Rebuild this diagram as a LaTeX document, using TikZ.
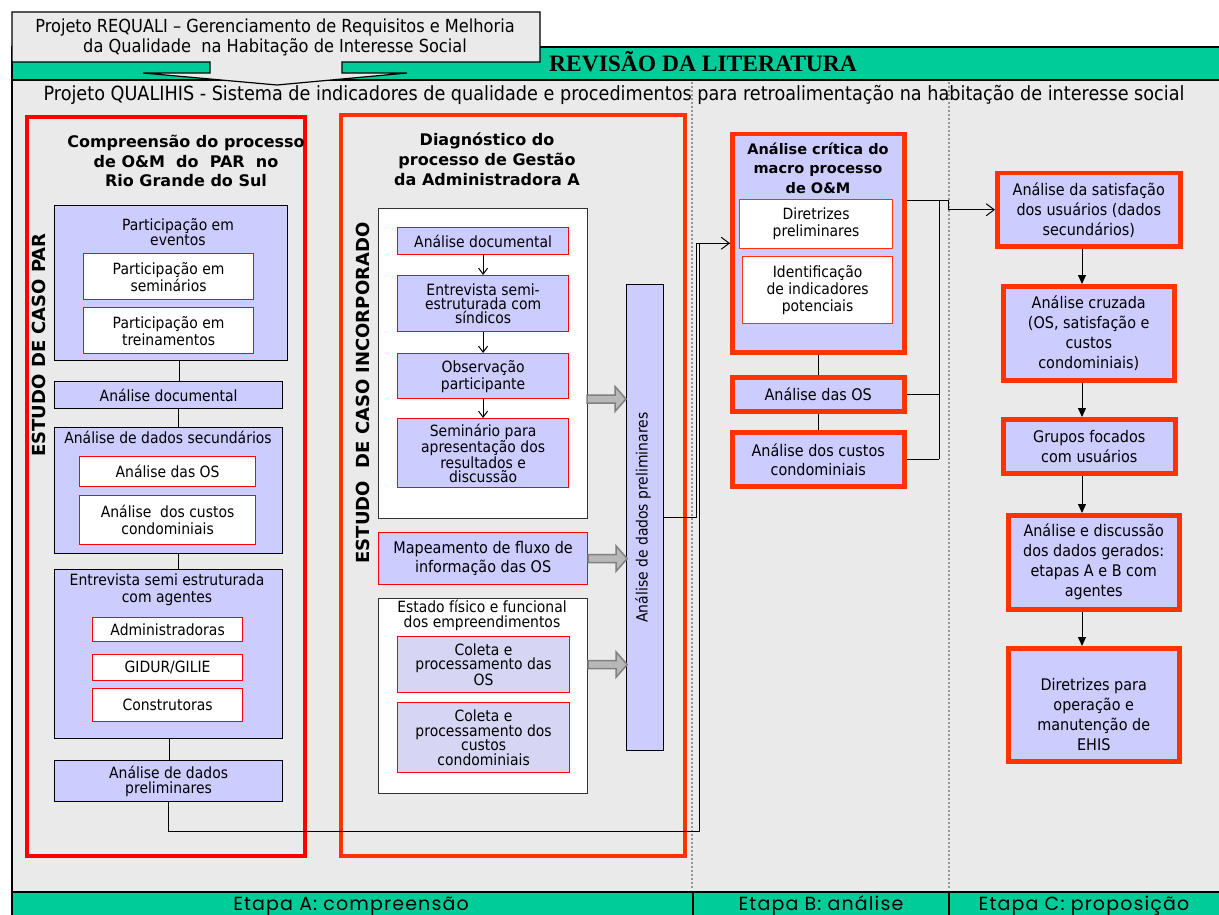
\documentclass[tikz,border=0pt]{standalone}
\usepackage{fontspec}
\usetikzlibrary{arrows.meta,calc}
\newfontfamily\tah{DejaVu Sans}[FakeStretch=0.9]
\newfontfamily\tahw{DejaVu Sans}
\newfontfamily\serifb{Liberation Serif}
\newfontfamily\geo{Poppins}[LetterSpace=6]
\newcommand\setfz[2]{\fontsize{#1}{#2}\selectfont}
\definecolor{bg}{RGB}{234,234,234}
\definecolor{grn}{RGB}{0,204,153}
\definecolor{lav}{RGB}{204,204,255}
\definecolor{lavlt}{RGB}{214,214,244}
\definecolor{ored}{RGB}{255,51,0}
\definecolor{brd}{RGB}{255,0,0}
\definecolor{arrg}{RGB}{184,184,184}
\definecolor{arrd}{RGB}{128,128,128}
\definecolor{dotg}{RGB}{150,150,150}
\begin{document}
\begin{tikzpicture}[x=1pt,y=-1pt,
  base/.style={anchor=north west, inner sep=0pt, align=center, text=black, font=\tah\setfz{15.5}{17}},
  sz/.style 2 args={minimum width=#1, minimum height=#2},
  lbox/.style={base, draw=black, line width=1.2pt, fill=lav},
  wbox/.style={base, draw=brd, line width=1.2pt, fill=white},
  rbox/.style={base, draw=brd, line width=1.2pt, fill=lav},
  kbox/.style={base, draw=black!80, line width=1.2pt, fill=white},
  tbox/.style={base, draw=ored, line width=4.5pt, fill=lav, font=\tah\setfz{16}{20}},
  frm/.style={base, line width=4pt},
  txt/.style={inner sep=0pt, align=center, text=black, font=\tah\setfz{15.5}{17}},
  ttl/.style={inner sep=0pt, align=center, text=black, font=\tahw\bfseries\setfz{16}{19.5}},
  vlab/.style={inner sep=0pt, rotate=90, text=black, font=\tahw\bfseries\setfz{18}{20}},
  conn/.style={draw=black, line width=1pt},
  barb/.style={conn, -{Straight Barb[length=6pt,width=9pt]}},
  bigbarb/.style={conn, -{Straight Barb[length=8pt,width=12pt]}},
  tri/.style={conn, -{Triangle[length=9pt,width=8pt]}},
  blk/.style={draw=arrd, fill=arrg, line width=1.5pt},
  dotl/.style={draw=dotg, line width=2pt, dash pattern=on 2pt off 2pt},
  stage/.style={inner sep=0pt, anchor=base, text=black, font=\geo\setfz{19}{22}}
]
\useasboundingbox (0,0) rectangle (1219,915);
\fill[white] (0,0) rectangle (1219,915);

% ---- frame: literature band, working area, stage band
\draw[fill=grn, line width=1.2pt] (12,47) rectangle (1225,80);
\node[inner sep=0pt, font=\serifb\bfseries\setfz{23.5}{25}] (rev) at (703,62) {REVISÃO DA LITERATURA};
\draw[fill=bg, line width=1.2pt] (12,80) rectangle (1225,892);
\draw[fill=bg, line width=1.2pt] (12,12) -- (540,12) -- (540,62) -- (342,62) -- (342,73)
  -- (407,73) -- (277,85) -- (143,73) -- (210,73) -- (210,62) -- (12,62) -- cycle;
\node[txt, font=\tah\setfz{18}{20}] (req) at (275,37)
  {Projeto REQUALI – Gerenciamento de Requisitos e Melhoria\\da Qualidade\ \ na Habitação de Interesse Social};
\node[txt, font=\tah\setfz{19.6}{21}] (qh) at (614,95)
  {Projeto QUALIHIS - Sistema de indicadores de qualidade e procedimentos para retroalimentação na habitação de interesse social};
\draw[dotl] (692,82) -- (692,890);
\draw[dotl] (949,82) -- (949,890);
\draw[fill=grn, line width=1.2pt] (12,892) rectangle (1225,930);
\draw[line width=1.2pt] (693,892) -- (693,915);
\draw[line width=1.2pt] (949,892) -- (949,915);
\node[stage] (sa) at (351,910) {Etapa A: compreensão};
\node[stage] (sb) at (821,910) {Etapa B: análise};
\node[stage] (sc) at (1084,910) {Etapa C: proposição};

% ---- stage A, left study
\node[frm, draw=brd, sz={278}{739}] (frL) at (25,115) {};
\node[ttl] (ttlL) at (186,161) {Compreensão do processo\\de O\&M\ \ do\ \ PAR\ \ no\\Rio Grande do Sul};
\node[vlab] (vL) at (39,345) {ESTUDO DE CASO PAR};
\node[lbox, sz={233}{155}] (ev) at (54,205) {};
\node[txt, font=\tah\setfz{15.5}{12}] (evt) at (178,232) {Participação em\\eventos};
\node[wbox, sz={170}{46}] (sem) at (83,253) {Participação em\\seminários};
\node[wbox, sz={170}{46}] (tre) at (83,307) {Participação em\\treinamentos};
\node[lbox, sz={228}{27}] (adoc) at (54,381) {Análise documental};
\node[lbox, sz={228}{126}] (sec) at (54,427) {};
\node[txt] (sect) at (168,437) {Análise de dados secundários};
\node[wbox, sz={176}{30}] (aosL) at (79,456) {Análise das OS};
\node[wbox, sz={176}{49}] (acuL) at (79,495) {Análise\ \ dos custos\\condominiais};
\node[lbox, sz={228}{169}] (ent) at (54,569) {};
\node[txt] (entt) at (167,590) {Entrevista semi estruturada\\com agentes};
\node[wbox, sz={150}{24}] (adm) at (92,617) {Administradoras};
\node[wbox, sz={150}{26}] (gid) at (92,654) {GIDUR/GILIE};
\node[wbox, sz={150}{33}] (con) at (92,688) {Construtoras};
\node[lbox, sz={228}{41}, font=\tah\setfz{15.5}{15}] (ldp) at (54,760) {Análise de dados\\preliminares};
\draw[conn] ([xshift=8pt]ev.south) -- ([xshift=8pt]ev.south |- adoc.north);
\draw[conn] ([xshift=10pt]adoc.south) -- ([xshift=10pt]adoc.south |- sec.north);
\draw[conn] ([xshift=10pt]sec.south) -- ([xshift=10pt]sec.south |- ent.north);
\draw[conn] ([xshift=1pt]ent.south) -- ([xshift=1pt]ldp.north);

% ---- stage A, embedded study
\node[frm, draw=ored, sz={344}{741}] (frM) at (339,113) {};
\node[ttl, font=\tahw\bfseries\setfz{16}{20}] (ttlM) at (487,159) {Diagnóstico do\\processo de Gestão\\da Administradora A};
\node[vlab] (vM) at (363,393) {ESTUDO\ \ DE CASO INCORPORADO};
\node[kbox, sz={209}{310}] (wb1) at (378,208) {};
\node[rbox, sz={171}{27}] (md) at (397,227) {Análise documental};
\node[rbox, sz={171}{56}, font=\tah\setfz{15.5}{14}] (me) at (397,275) {Entrevista semi-\\estruturada com\\síndicos};
\node[rbox, sz={171}{45}] (mo) at (397,353) {Observação\\participante};
\node[rbox, sz={171}{69}, font=\tah\setfz{15.5}{14}] (ms) at (397,418) {Seminário para\\apresentação dos\\resultados e\\discussão};
\draw[barb] (md.south) -- (me.north);
\draw[barb] (me.south) -- (mo.north);
\draw[barb] (mo.south) -- (ms.north);
\node[rbox, sz={209}{52}, font=\tah\setfz{16}{19}] (mm) at (378,532) {Mapeamento de fluxo de\\informação das OS};
\node[kbox, sz={209}{195}] (wb2) at (378,598) {};
\node[txt, font=\tah\setfz{15.5}{15}] (wb2t) at (482,615) {Estado físico e funcional\\dos empreendimentos};
\node[rbox, fill=lavlt, sz={172}{56}, font=\tah\setfz{15.5}{14.5}] (mc1) at (397,636) {Coleta e\\processamento das\\OS};
\node[rbox, fill=lavlt, sz={172}{70}, font=\tah\setfz{15.5}{14.5}] (mc2) at (397,702) {Coleta e\\processamento dos\\custos\\condominiais};
\node[lbox, sz={37}{466}] (vdp) at (626,284) {};
\node[txt, rotate=90] (vdpt) at ([xshift=-2pt]vdp.center) {Análise de dados preliminares};
\coordinate (g1) at (587,399);
\coordinate (g2) at (mm.east);
\coordinate (g3) at (wb2.east |- mc1.center);
\foreach \g in {g1,g2,g3}
  \draw[blk] (\g) ++(0,-4) -- ++(28,0) -- ++(0,-8.5) -- ++(11,12.5) -- ++(-11,12.5)
    -- ++(0,-8.5) -- ++(-28,0) -- cycle;

% ---- stage B
\node[tbox, sz={172}{218}] (acrit) at (730,132) {};
\node[ttl, font=\tahw\bfseries\setfz{14.5}{19.5}] (acritt) at (818,168) {Análise crítica do\\macro processo\\de O\&M};
\node[wbox, draw=ored, sz={153}{49}] (dpre) at (739,199) {Diretrizes\\preliminares};
\node[wbox, draw=ored, sz={150}{67}] (iden) at (742,256) {Identificação\\de indicadores\\potenciais};
\node[tbox, sz={172}{34}] (aos) at (730,375) {Análise das OS};
\node[tbox, sz={172}{54}, font=\tah\setfz{16}{19}] (acus) at (730,430) {Análise dos custos\\condominiais};
\draw[conn] (acrit.south) -- (aos.north);
\draw[conn] (aos.south) -- (acus.north);

% ---- stage C
\node[tbox, sz={183}{73}] (sat) at (995,171) {Análise da satisfação\\dos usuários (dados\\secundários)};
\node[tbox, sz={171}{94}] (cru) at (1001,284) {Análise cruzada\\(OS, satisfação e\\custos\\condominiais)};
\node[tbox, sz={172}{54}] (gru) at (1001,417) {Grupos focados\\com usuários};
\node[tbox, sz={171}{94}] (dis) at (1006,513) {Análise e discussão\\dos dados gerados:\\etapas A e B com\\agentes};
\node[tbox, sz={171}{113}, label={[txt, font=\tah\setfz{16}{20}, yshift=-10pt]center:Diretrizes para\\operação e\\manutenção de\\EHIS}] (dir) at (1006,646) {};
\coordinate (ax) at (1082,0);
\draw[tri] (sat.south -| ax) -- (cru.north -| ax);
\draw[tri] (cru.south -| ax) -- (gru.north -| ax);
\draw[tri] (gru.south -| ax) -- (dis.north -| ax);
\draw[tri] (dis.south -| ax) -- (dir.north -| ax);

% ---- links between stages
\coordinate (busA) at (699,831);
\coordinate (busB) at (696,0);
\draw[conn] (ldp.south) |- (busA) -- (busA |- acrit.west) -- (acrit.west);
\draw[bigbarb] (vdp.east) -| (busB |- acrit.west) -- (acrit.west);
\coordinate (rt) at ([yshift=43pt]acrit.east);
\coordinate (bus) at (939,0);
\coordinate (stp) at (948,0);
\draw[bigbarb] (rt) -| (stp |- sat.west) -- (sat.west);
\draw[conn] (bus |- rt) -- (bus |- acus.east);
\draw[conn] (aos.east) -- (bus |- aos.east);
\draw[conn] (acus.east) -- (bus |- acus.east);
\end{tikzpicture}
\end{document}
